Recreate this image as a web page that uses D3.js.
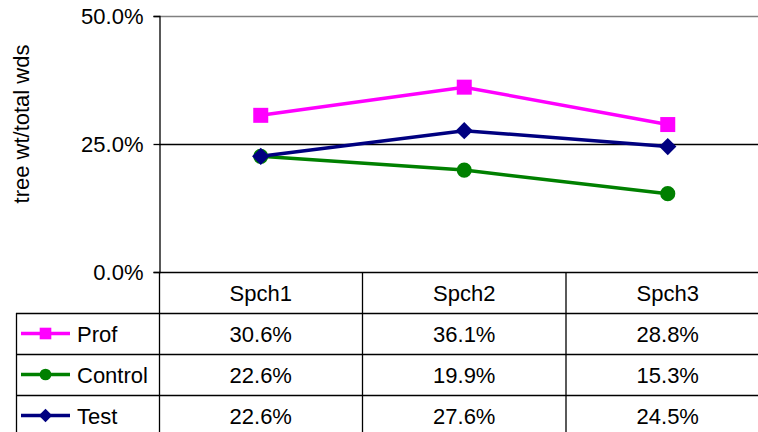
<!DOCTYPE html>
<html>
<head>
<meta charset="utf-8">
<script src="https://cdn.jsdelivr.net/npm/d3@7"></script>
<style>
  body { margin: 0; background: #fff; }
  text { font-family: "Liberation Sans", Arial, sans-serif; fill: #000; }
</style>
</head>
<body>
<div id="vis"></div>
<script>
// chart values
const categories = ['Spch1', 'Spch2', 'Spch3'];
const seriesNames = ['Prof', 'Control', 'Test'];
const profValues = [0.306, 0.361, 0.288];
const controlValues = [0.226, 0.199, 0.153];
const testValues = [0.226, 0.276, 0.245];
const yTicks = [0, 0.25, 0.5];

const seriesValues = [profValues, controlValues, testValues];
const colors = ['#ff00ff', '#008000', '#000080'];
const symbols = [d3.symbolSquare, d3.symbolCircle, d3.symbolSquare];
const symbolSizes = [225, 180, 150];
const symbolRot = [0, 0, 45];

let width = 758, height = 432;
let plotLeft = 159, plotTop = 16, plotBottom = 272, colWidth = 203.5;
let rowHeight = 41;
let tableLeft = 16;
let fontSize = '22px';

let svg = d3.select('#vis')
    .append('svg')
    .attr('width', width)
    .attr('height', height);

let xScale = d3.scaleBand()
    .domain(categories)
    .range([plotLeft, plotLeft + colWidth * categories.length]);

let yScale = d3.scaleLinear()
    .domain([0, 0.5])
    .range([plotBottom, plotTop]);

let fmt = d3.format('.1%');

// gridlines
svg.selectAll('.grid')
    .data(yTicks)
    .enter().append('line')
    .attr('x1', plotLeft)
    .attr('x2', xScale.range()[1])
    .attr('y1', d => yScale(d) + 0.5)
    .attr('y2', d => yScale(d) + 0.5)
    .attr('stroke', d => d === 0.5 ? '#808080' : '#000')
    .attr('stroke-width', 1.3);

// y axis
let yAxis = d3.axisLeft(yScale)
    .tickValues(yTicks)
    .tickFormat(fmt)
    .tickSize(6)
    .tickPadding(10);

let yAxisG = svg.append('g')
    .attr('transform', `translate(${plotLeft + 0.5},0)`)
    .call(yAxis);
yAxisG.select('.domain').attr('stroke', '#000').attr('stroke-width', 1.3);
yAxisG.selectAll('.tick line').attr('stroke', '#000').attr('stroke-width', 1.3);
yAxisG.selectAll('.tick text')
    .style('font-family', '"Liberation Sans", Arial, sans-serif')
    .style('font-size', fontSize)
    .attr('fill', '#000');

// y axis title
svg.append('text')
    .attr('transform', `translate(29, 124) rotate(-90)`)
    .attr('text-anchor', 'middle')
    .style('font-size', '22px')
    .text('tree wt/total wds');

// lines
let line = d3.line()
    .x((d, i) => xScale(categories[i]) + xScale.bandwidth() / 2)
    .y(d => yScale(d));

seriesValues.forEach((vals, s) => {
    svg.append('path')
        .datum(vals)
        .attr('d', line)
        .attr('fill', 'none')
        .attr('stroke', colors[s])
        .attr('stroke-width', 3.5);
});

seriesValues.forEach((vals, s) => {
    svg.selectAll('.pt' + s)
        .data(vals)
        .enter().append('path')
        .attr('d', d3.symbol().type(symbols[s]).size(symbolSizes[s]))
        .attr('transform', (d, i) => `translate(${xScale(categories[i]) + xScale.bandwidth() / 2}, ${yScale(d)}) rotate(${symbolRot[s]})`)
        .attr('fill', colors[s]);
});

// data table
let tableRight = xScale.range()[1];
let rowYs = [plotBottom, plotBottom + rowHeight, plotBottom + rowHeight * 2, plotBottom + rowHeight * 3, plotBottom + rowHeight * 4];

let tbl = svg.append('g');
rowYs.forEach((y, i) => {
    if (i === 0) return;
    tbl.append('line')
        .attr('x1', tableLeft).attr('x2', tableRight)
        .attr('y1', y + 0.5).attr('y2', y + 0.5)
        .attr('stroke', '#000').attr('stroke-width', 1.3);
});
tbl.append('line')
    .attr('x1', tableLeft + 0.5).attr('x2', tableLeft + 0.5)
    .attr('y1', rowYs[1]).attr('y2', height)
    .attr('stroke', '#000').attr('stroke-width', 1.3);
categories.forEach((c, i) => {
    let x = xScale(c) + xScale.bandwidth();
    tbl.append('line')
        .attr('x1', x).attr('x2', x)
        .attr('y1', plotBottom).attr('y2', height)
        .attr('stroke', '#000').attr('stroke-width', 1.3);
});
tbl.append('line')
    .attr('x1', plotLeft + 0.5).attr('x2', plotLeft + 0.5)
    .attr('y1', plotBottom).attr('y2', height)
    .attr('stroke', '#000').attr('stroke-width', 1.3);

// header
tbl.selectAll('.hdr')
    .data(categories)
    .enter().append('text')
    .attr('x', d => xScale(d) + xScale.bandwidth() / 2)
    .attr('y', plotBottom + rowHeight / 2 + 8)
    .attr('text-anchor', 'middle')
    .style('font-size', fontSize)
    .text(d => d);

// rows
seriesValues.forEach((vals, s) => {
    let cy = rowYs[s + 1] + rowHeight / 2;
    tbl.selectAll('.cell' + s)
        .data(vals)
        .enter().append('text')
        .attr('x', (d, i) => xScale(categories[i]) + xScale.bandwidth() / 2)
        .attr('y', cy + 8)
        .attr('text-anchor', 'middle')
        .style('font-size', fontSize)
        .text(d => fmt(d));

    // legend key
    tbl.append('line')
        .attr('x1', 21).attr('x2', 70)
        .attr('y1', cy).attr('y2', cy)
        .attr('stroke', colors[s]).attr('stroke-width', 3.5);
    tbl.append('path')
        .attr('d', d3.symbol().type(symbols[s]).size(symbolSizes[s] * 0.6))
        .attr('transform', `translate(45.5, ${cy}) rotate(${symbolRot[s]})`)
        .attr('fill', colors[s]);
    tbl.append('text')
        .attr('x', 77)
        .attr('y', cy + 8)
        .style('font-size', fontSize)
        .text(seriesNames[s]);
});
</script>
</body>
</html>
